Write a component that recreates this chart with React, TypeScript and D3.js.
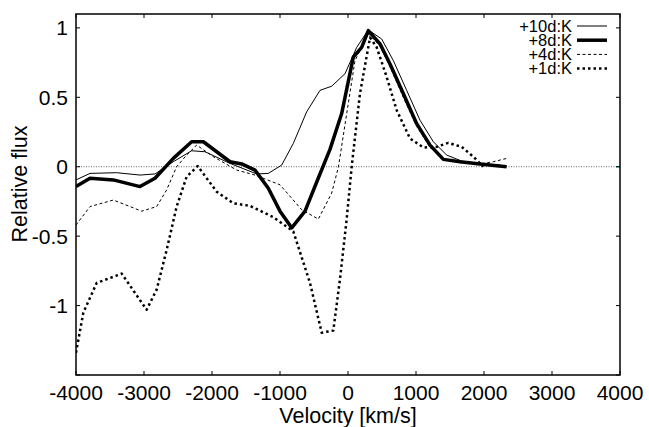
import React, { useEffect, useRef } from "react";
import * as d3 from "d3";

// velocity [km/s] and relative flux
const vel10 = [-4000, -3794, -3402, -3059, -2838, -2569, -2299, -2103, -1735, -1343, -1172, -975, -804, -608, -412, -240, -44, 128, 299, 495, 666, 863, 1059, 1255, 1451, 1696, 1941, 2235];
const flux10 = [-0.095, -0.048, -0.043, -0.06, -0.052, 0.036, 0.115, 0.108, 0.024, -0.052, -0.048, 0.012, 0.168, 0.395, 0.55, 0.58, 0.67, 0.86, 0.985, 0.92, 0.765, 0.55, 0.335, 0.18, 0.084, 0.036, 0.02, 0.012];

const vel8 = [-4000, -3794, -3451, -3059, -2838, -2569, -2299, -2127, -1735, -1563, -1368, -1172, -1000, -828, -632, -460, -265, -93, 78, 201, 299, 471, 618, 813, 1010, 1206, 1402, 1647, 1941, 2333];
const flux8 = [-0.143, -0.083, -0.095, -0.143, -0.083, 0.06, 0.18, 0.18, 0.036, 0.02, -0.024, -0.155, -0.32, -0.44, -0.32, -0.11, 0.125, 0.383, 0.79, 0.86, 0.98, 0.885, 0.74, 0.527, 0.31, 0.156, 0.053, 0.036, 0.02, 0.0];

const vel4 = [-4000, -3794, -3451, -3034, -2814, -2667, -2520, -2373, -2225, -1980, -1637, -1368, -1000, -681, -436, -240, -140, -20, 103, 299, 471, 618, 813, 1010, 1206, 1402, 1647, 1941, 2137, 2333];
const flux4 = [-0.42, -0.287, -0.24, -0.32, -0.287, -0.167, 0.0, 0.084, 0.156, 0.072, -0.024, -0.06, -0.13, -0.31, -0.377, -0.19, 0.0, 0.38, 0.765, 0.957, 0.87, 0.72, 0.5, 0.29, 0.14, 0.06, 0.03, 0.02, 0.036, 0.06];

const vel1 = [-4000, -3892, -3696, -3328, -2961, -2814, -2667, -2520, -2373, -2211, -1931, -1686, -1441, -1098, -804, -559, -387, -216, -118, -20, 54, 176, 324, 422, 569, 716, 912, 1108, 1304, 1475, 1672, 1843, 1990];
const flux1 = [-1.34, -1.05, -0.837, -0.77, -1.03, -0.885, -0.6, -0.287, -0.072, 0.005, -0.18, -0.263, -0.282, -0.363, -0.466, -0.837, -1.195, -1.18, -0.81, -0.38, 0.0, 0.527, 0.93, 0.86, 0.646, 0.407, 0.203, 0.139, 0.143, 0.172, 0.143, 0.072, 0.0];

const seriesNames = ["+10d:K", "+8d:K", "+4d:K", "+1d:K"];
const xTicks = [-4000, -3000, -2000, -1000, 0, 1000, 2000, 3000, 4000];
const yTicks = [-1.5, -1, -0.5, 0, 0.5, 1];

const App = () => {
  const ref = useRef<SVGSVGElement>(null);

  useEffect(() => {
    const width = 649, height = 427;
    const m = { left: 76, right: 29, top: 14, bottom: 52 };
    const svg = d3.select(ref.current).attr("width", width).attr("height", height);
    svg.selectAll("*").remove();

    const x = d3.scaleLinear().domain([-4000, 4000]).range([m.left, width - m.right]);
    const y = d3.scaleLinear().domain([-1.5, 1.1]).range([height - m.bottom, m.top]);
    const font = "Liberation Sans, Arial, sans-serif";

    svg.append("clipPath").attr("id", "plot")
      .append("rect")
      .attr("x", m.left).attr("y", m.top)
      .attr("width", width - m.left - m.right)
      .attr("height", height - m.top - m.bottom);

    // zero line
    svg.append("line")
      .attr("x1", x(-4000)).attr("x2", x(4000))
      .attr("y1", y(0)).attr("y2", y(0))
      .attr("stroke", "#666").attr("stroke-width", 1)
      .attr("stroke-dasharray", "1,1.5");
    svg.append("line")
      .attr("x1", x(4000) - 4).attr("x2", x(4000))
      .attr("y1", y(0)).attr("y2", y(0))
      .attr("stroke", "#22aaaa").attr("stroke-width", 1.5);

    const styles = [
      { w: 1, dash: null },
      { w: 3.5, dash: null },
      { w: 1, dash: "3,2.5" },
      { w: 2.5, dash: "2.5,3" },
    ];
    const data = [
      vel10.map((v, i) => [v, flux10[i]]),
      vel8.map((v, i) => [v, flux8[i]]),
      vel4.map((v, i) => [v, flux4[i]]),
      vel1.map((v, i) => [v, flux1[i]]),
    ];
    const line = d3.line<number[]>().x((d) => x(d[0])).y((d) => y(d[1]));

    const g = svg.append("g").attr("clip-path", "url(#plot)");
    data.forEach((pts, i) => {
      g.append("path")
        .attr("d", line(pts))
        .attr("fill", "none")
        .attr("stroke", "#000")
        .attr("stroke-width", styles[i].w)
        .attr("stroke-linejoin", "round")
        .attr("stroke-dasharray", styles[i].dash);
    });

    // frame
    svg.append("rect")
      .attr("x", m.left).attr("y", m.top)
      .attr("width", width - m.left - m.right)
      .attr("height", height - m.top - m.bottom)
      .attr("fill", "none").attr("stroke", "#000").attr("stroke-width", 1.5);

    const tl = 4;
    xTicks.forEach((t) => {
      svg.append("line").attr("x1", x(t)).attr("x2", x(t))
        .attr("y1", y(-1.5)).attr("y2", y(-1.5) - tl).attr("stroke", "#000");
      svg.append("line").attr("x1", x(t)).attr("x2", x(t))
        .attr("y1", m.top).attr("y2", m.top + tl).attr("stroke", "#000");
      svg.append("text").attr("x", x(t)).attr("y", 400)
        .attr("text-anchor", "middle").attr("font-family", font).attr("font-size", 21)
        .text(t);
    });
    yTicks.forEach((t) => {
      svg.append("line").attr("x1", m.left).attr("x2", m.left + tl)
        .attr("y1", y(t)).attr("y2", y(t)).attr("stroke", "#000");
      svg.append("line").attr("x1", width - m.right).attr("x2", width - m.right - tl)
        .attr("y1", y(t)).attr("y2", y(t)).attr("stroke", "#000");
      if (t > -1.5) {
        svg.append("text").attr("x", 68).attr("y", y(t) + 7.5)
          .attr("text-anchor", "end").attr("font-family", font).attr("font-size", 21)
          .text(t);
      }
    });

    svg.append("text").attr("x", 348).attr("y", 423)
      .attr("text-anchor", "middle").attr("font-family", font).attr("font-size", 21.5)
      .text("Velocity [km/s]");
    svg.append("text")
      .attr("transform", `translate(27,184) rotate(-90)`)
      .attr("text-anchor", "middle").attr("font-family", font).attr("font-size", 21.5)
      .text("Relative flux");

    // legend
    seriesNames.forEach((name, i) => {
      const ly = 26 + i * 14.2;
      svg.append("text").attr("x", 572).attr("y", ly + 5.5)
        .attr("text-anchor", "end").attr("font-family", font).attr("font-size", 16.5)
        .text(name);
      svg.append("line").attr("x1", 577).attr("x2", 607)
        .attr("y1", ly).attr("y2", ly)
        .attr("stroke", "#000").attr("stroke-width", styles[i].w)
        .attr("stroke-dasharray", styles[i].dash);
    });
  }, []);

  return <svg ref={ref} style={{ position: "absolute", left: 0, top: 0 }}></svg>;
};

export default App;
